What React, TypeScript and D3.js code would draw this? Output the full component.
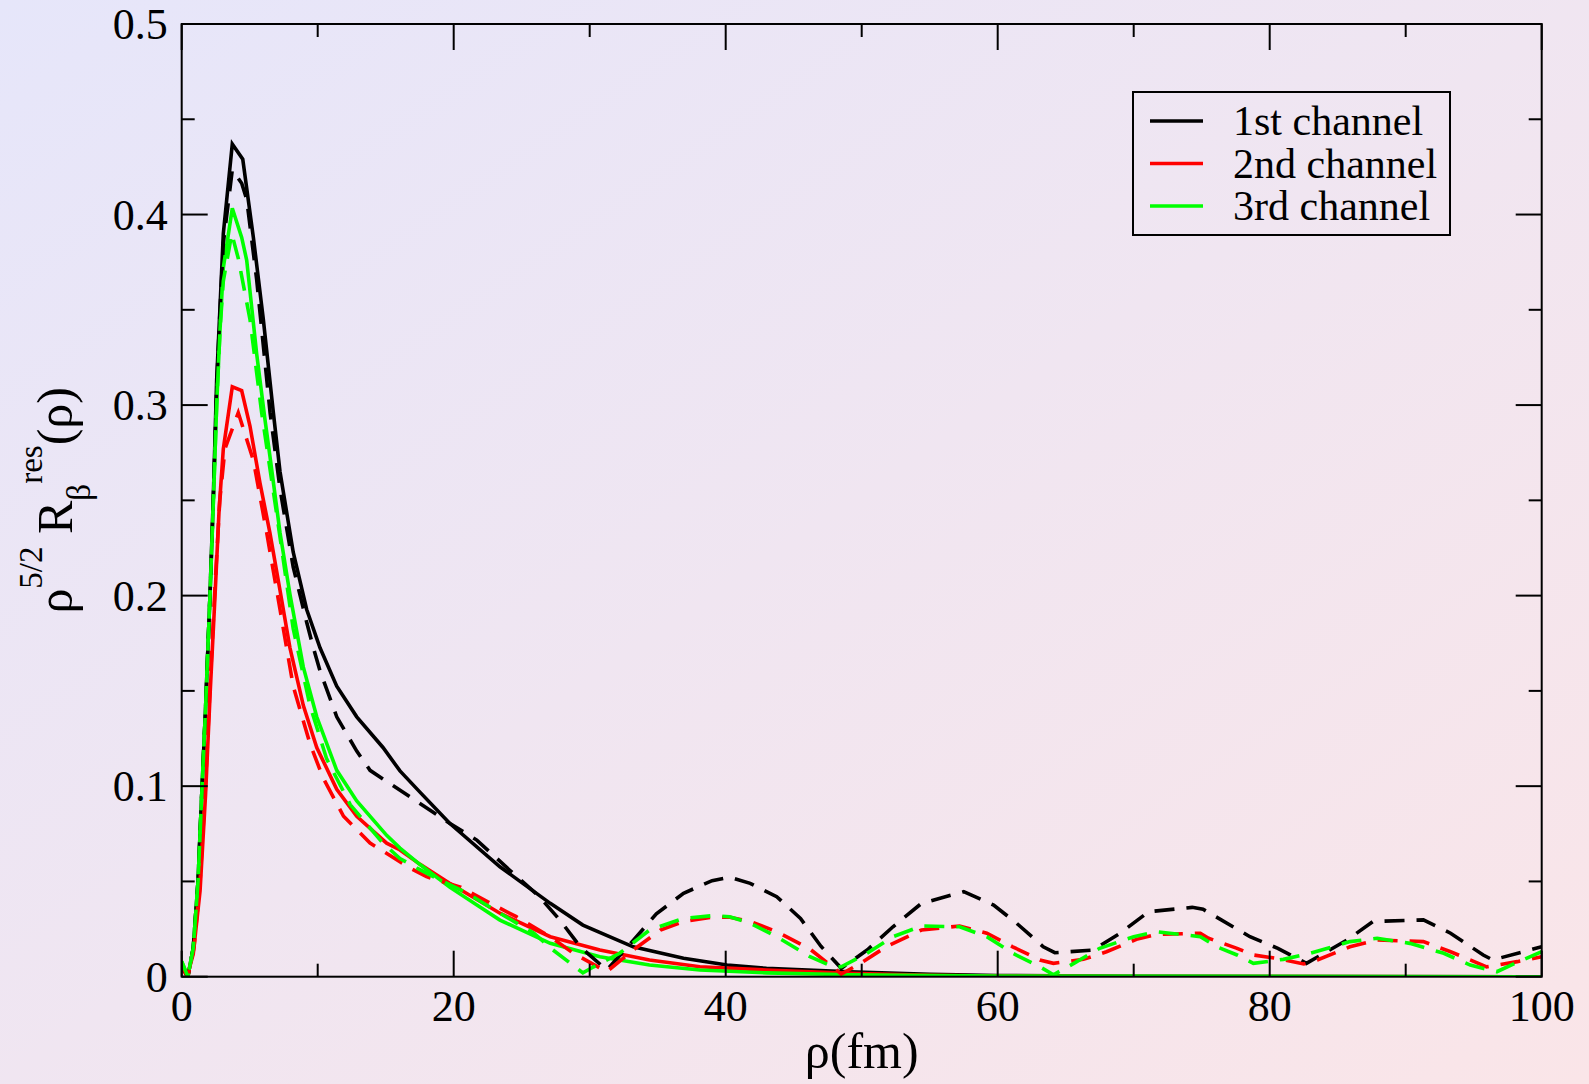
import React from "react";
import * as d3 from "d3";

type P = [number, number];

const blackSolid: P[] = [[0,0.006],[0.45,0],[0.85,0.015],[1.2,0.05],[1.5,0.1],[1.75,0.14],[2.08,0.2],[2.33,0.253],[2.57,0.313],[2.82,0.352],[3.06,0.39],[3.72,0.437],[4.49,0.429],[5.27,0.388],[6.0,0.345],[6.74,0.296],[7.23,0.265],[8.2,0.2228],[9.19,0.1927],[10.17,0.1726],[11.4,0.1525],[12.87,0.1364],[14.8,0.1203],[16.05,0.108],[17.5,0.097],[19.7,0.0805],[23.4,0.0577],[27.1,0.0385],[29.5,0.0271],[33.2,0.0157],[36.9,0.0097],[40.1,0.0061],[43.0,0.0044],[49.1,0.0026],[55,0.0012],[60,0.0006],[70,0.0002],[80,0.0001],[100,0]];

const redSolid: P[] = [[0,0.005],[0.4,0],[0.85,0.012],[1.35,0.045],[1.75,0.095],[2.1,0.15],[2.45,0.2],[2.75,0.245],[3.06,0.277],[3.72,0.3096],[4.41,0.3076],[5.02,0.289],[5.76,0.259],[6.49,0.2328],[7.23,0.2027],[7.96,0.1726],[8.94,0.1424],[9.93,0.1203],[11.4,0.0983],[12.87,0.0842],[15.07,0.0701],[16.05,0.0665],[17.5,0.0591],[19.7,0.049],[23.4,0.0333],[27.1,0.021],[30.75,0.014],[34.4,0.0088],[38.1,0.0052],[43,0.0035],[49.1,0.0018],[55,0.0008],[60,0.0004],[70,0.0001],[100,0]];

const greenSolid: P[] = [[0,0.008],[0.45,0],[0.85,0.015],[1.2,0.05],[1.5,0.1],[1.75,0.14],[2.08,0.2],[2.33,0.25],[2.57,0.3],[2.82,0.34],[3.06,0.372],[3.72,0.4033],[4.41,0.388],[4.78,0.376],[5.51,0.327],[6.13,0.292],[6.49,0.273],[7.23,0.233],[7.96,0.2007],[8.94,0.1626],[9.93,0.1364],[11.4,0.1083],[12.87,0.0922],[15.07,0.0742],[16.05,0.0675],[17.5,0.059],[19.7,0.047],[23.4,0.0297],[27.1,0.0175],[30.75,0.0105],[34.4,0.0061],[38.1,0.0035],[43,0.002],[49.1,0.001],[60,0.0003],[100,0]];

const blackDashed: P[] = [[0,0.006],[0.45,0],[0.85,0.015],[1.2,0.05],[1.5,0.1],[1.75,0.14],[2.08,0.2],[2.33,0.253],[2.57,0.31],[2.82,0.35],[3.06,0.385],[3.72,0.4234],[4.41,0.4164],[4.78,0.408],[5.51,0.366],[6.5,0.296],[7.23,0.256],[8.2,0.215],[9.19,0.186],[9.68,0.1726],[10.17,0.1605],[11.4,0.1364],[12.87,0.1184],[13.85,0.1083],[16.8,0.0943],[19.7,0.0805],[21.7,0.0717],[24.1,0.056],[26.3,0.042],[27.8,0.0298],[29.3,0.0157],[31.25,0.0035],[33.2,0.019],[34.9,0.033],[36.9,0.0438],[39.0,0.0504],[40.3,0.0522],[41.8,0.049],[43.75,0.042],[45.5,0.0306],[47.0,0.016],[48.5,0.0044],[50.4,0.014],[52.3,0.0262],[54.4,0.0385],[57.5,0.0446],[59.7,0.0376],[61.4,0.028],[63.35,0.0157],[64.2,0.0126],[67.0,0.014],[69.0,0.0228],[71.1,0.0341],[74.3,0.0364],[75.1,0.0354],[78.55,0.021],[80.6,0.0149],[82.7,0.007],[85.7,0.0193],[87.6,0.029],[91.3,0.0298],[93.3,0.0228],[95.7,0.0114],[96.4,0.0088],[100,0.0157]];

const redDashed: P[] = [[0,0.006],[0.45,0],[0.9,0.015],[1.35,0.05],[1.75,0.1],[2.1,0.155],[2.45,0.205],[2.8,0.25],[3.18,0.277],[4.16,0.296],[5.27,0.271],[6.25,0.233],[7.23,0.1927],[8.2,0.1525],[9.43,0.1223],[10.4,0.1043],[11.9,0.0842],[13.85,0.0701],[16.8,0.057],[18.0,0.0525],[20.5,0.047],[22.7,0.0385],[24.6,0.0315],[27.1,0.021],[28.8,0.0123],[31.25,0.0026],[33.2,0.014],[35.2,0.0245],[36.9,0.029],[39.0,0.0312],[40.3,0.0312],[41.8,0.029],[43.75,0.0236],[46.2,0.0145],[48.5,0.0014],[49.9,0.007],[51.8,0.0157],[54.4,0.0245],[57.2,0.0266],[59.2,0.0228],[61.1,0.0157],[63.1,0.0088],[64.1,0.007],[66.3,0.0091],[68.0,0.0131],[70.2,0.0196],[71.7,0.0222],[74.9,0.0228],[75.5,0.0202],[77.6,0.0149],[78.8,0.0114],[80.5,0.0096],[82.5,0.0067],[83.5,0.0088],[85.9,0.0157],[87.9,0.0193],[91.3,0.0184],[93.3,0.0131],[95.95,0.0052],[98.2,0.0079],[100,0.0105]];

const greenDashed: P[] = [[0,0.008],[0.45,0],[0.85,0.015],[1.2,0.05],[1.5,0.1],[1.75,0.14],[2.08,0.2],[2.33,0.25],[2.57,0.3],[2.82,0.34],[3.06,0.365],[3.68,0.39],[4.16,0.377],[5.02,0.345],[5.88,0.296],[6.98,0.243],[8.2,0.1826],[9.43,0.1424],[10.66,0.1143],[12.4,0.0902],[14.8,0.0701],[16.05,0.062],[17.3,0.057],[18.5,0.0525],[21,0.0438],[23.4,0.0333],[25.9,0.0228],[27.3,0.014],[29.5,0.002],[30.3,0.0052],[32.2,0.0123],[34.4,0.0245],[36.9,0.0306],[39.0,0.032],[40.3,0.0315],[41.8,0.028],[43.75,0.021],[46.2,0.0105],[47.9,0.0052],[48.5,0.0052],[50.4,0.0123],[52.3,0.021],[54.4,0.0266],[57.2,0.0262],[59.2,0.021],[61.1,0.0123],[63.1,0.0052],[64.1,0.001],[65.6,0.007],[67.5,0.0149],[70.0,0.021],[71.7,0.0236],[74.9,0.021],[76.1,0.0157],[77.6,0.0114],[78.8,0.007],[81.0,0.0091],[83.0,0.0123],[85.9,0.0184],[87.9,0.0202],[90.3,0.0175],[92.8,0.0123],[94.75,0.0061],[96.7,0.0026],[98.6,0.0088],[100,0.0131]];

const legendLabels = ["1st channel", "2nd channel", "3rd channel"];
const seriesColors = ["#000000", "#ff0000", "#00ff00"];
const xMajorTicks = [0, 20, 40, 60, 80, 100];
const xMinorTicks = [10, 30, 50, 70, 90];
const yMajorTicks = [0, 0.1, 0.2, 0.3, 0.4, 0.5];
const yMinorTicks = [0.05, 0.15, 0.25, 0.35, 0.45];
const xTickLabels = ["0", "20", "40", "60", "80", "100"];
const yTickLabels = ["0", "0.1", "0.2", "0.3", "0.4", "0.5"];

const W = 1589;
const H = 1084;
const L = 181.7, R = 1541.7, T = 24, B = 976.7;
const FONT = "'Liberation Serif', 'Times New Roman', serif";

export default function App() {
  const x = d3.scaleLinear().domain([0, 100]).range([L, R]);
  const y = d3.scaleLinear().domain([0, 0.5]).range([B, T]);
  const line = d3.line<P>().x(d => x(d[0])).y(d => y(d[1])).curve(d3.curveLinear);

  const solids = [blackSolid, redSolid, greenSolid];
  const dashed = [blackDashed, redDashed, greenDashed];
  const MAJ = 26, MIN = 13;

  return (
    <div style={{ position: "absolute", left: 0, top: 0, width: W, height: H }}>
      <svg width={W} height={H} style={{ display: "block" }}>
        <defs>
          <linearGradient id="bg" x1="0" y1="0" x2="1" y2="1">
            <stop offset="0" stopColor="#e6e6fa" />
            <stop offset="1" stopColor="#fae5e8" />
          </linearGradient>
          <clipPath id="clip">
            <rect x={L} y={T} width={R - L} height={B - T} />
          </clipPath>
        </defs>
        <rect x={0} y={0} width={W} height={H} fill="url(#bg)" />

        <g clipPath="url(#clip)" fill="none" strokeWidth={3.6} strokeLinejoin="miter">
          {solids.map((s, i) => (
            <path key={"s" + i} d={line(s) || ""} stroke={seriesColors[i]} />
          ))}
          {dashed.map((s, i) => (
            <path key={"d" + i} d={line(s) || ""} stroke={seriesColors[i]} strokeDasharray="20,12" />
          ))}
        </g>

        {/* ticks */}
        <g stroke="#000" strokeWidth={2}>
          {xMajorTicks.map((t, i) => (
            <g key={"xm" + i}>
              <line x1={x(t)} x2={x(t)} y1={B} y2={B - MAJ} />
              <line x1={x(t)} x2={x(t)} y1={T} y2={T + MAJ} />
            </g>
          ))}
          {xMinorTicks.map((t, i) => (
            <g key={"xn" + i}>
              <line x1={x(t)} x2={x(t)} y1={B} y2={B - MIN} />
              <line x1={x(t)} x2={x(t)} y1={T} y2={T + MIN} />
            </g>
          ))}
          {yMajorTicks.map((t, i) => (
            <g key={"ym" + i}>
              <line x1={L} x2={L + MAJ} y1={y(t)} y2={y(t)} />
              <line x1={R} x2={R - MAJ} y1={y(t)} y2={y(t)} />
            </g>
          ))}
          {yMinorTicks.map((t, i) => (
            <g key={"yn" + i}>
              <line x1={L} x2={L + MIN} y1={y(t)} y2={y(t)} />
              <line x1={R} x2={R - MIN} y1={y(t)} y2={y(t)} />
            </g>
          ))}
          <rect x={L} y={T} width={R - L} height={B - T} fill="none" />
        </g>

        {/* tick labels */}
        <g fontFamily={FONT} fontSize={44} fill="#000">
          {xMajorTicks.map((t, i) => (
            <text key={"xl" + i} x={x(t)} y={B + 44} textAnchor="middle">{xTickLabels[i]}</text>
          ))}
          {yMajorTicks.map((t, i) => (
            <text key={"yl" + i} x={L - 14} y={y(t) + 15} textAnchor="end">{yTickLabels[i]}</text>
          ))}
        </g>

        {/* axis labels */}
        <text x={(L + R) / 2} y={1068} textAnchor="middle" fontFamily={FONT} fontSize={50}>ρ(fm)</text>
        <text transform={`translate(72, ${(T + B) / 2}) rotate(-90)`} textAnchor="middle" fontFamily={FONT} fontSize={50}>
          <tspan>ρ</tspan>
          <tspan fontSize={33} dy={-30}>5/2</tspan>
          <tspan dy={30}> R</tspan>
          <tspan fontSize={33} dy={18}>β</tspan>
          <tspan fontSize={33} dy={-48}>res</tspan>
          <tspan dy={30}>(ρ)</tspan>
        </text>

        {/* legend */}
        <rect x={1133} y={92} width={317} height={143} fill="none" stroke="#000" strokeWidth={2} />
        {legendLabels.map((lab, i) => (
          <g key={"lg" + i}>
            <line x1={1150} x2={1203} y1={121 + i * 42.5} y2={121 + i * 42.5} stroke={seriesColors[i]} strokeWidth={3.6} />
            <text x={1233} y={135 + i * 42.5} fontFamily={FONT} fontSize={42}>{lab}</text>
          </g>
        ))}
      </svg>
    </div>
  );
}
